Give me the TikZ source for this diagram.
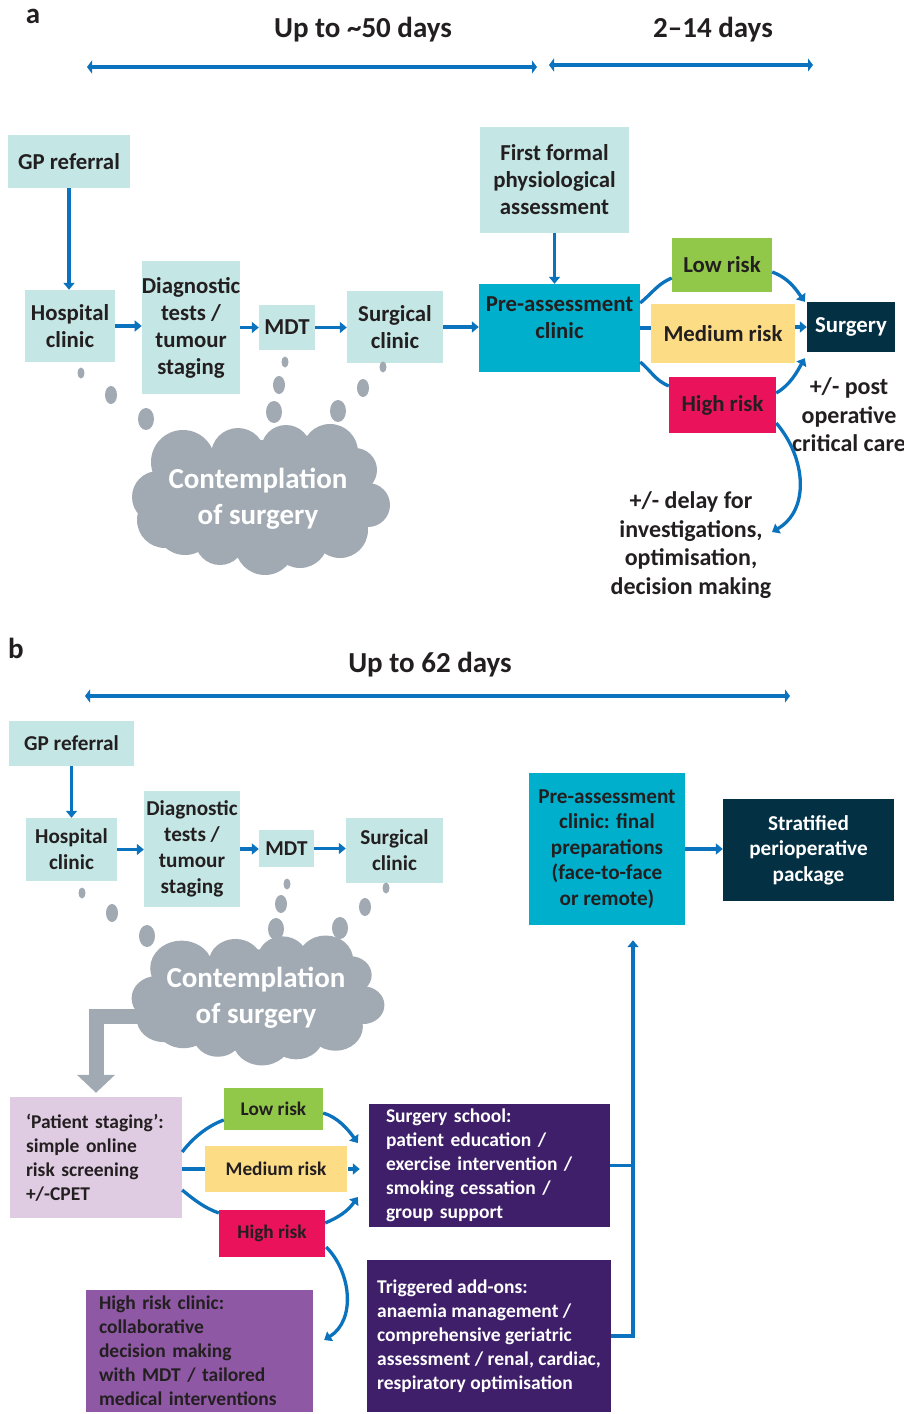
\documentclass[tikz,border=0pt]{standalone}
\usepackage{fontspec}
\setmainfont{Carlito}
\usetikzlibrary{arrows.meta}

\definecolor{ink}{RGB}{35,31,32}
\definecolor{boxpale}{RGB}{196,230,228}
\definecolor{boxcyan}{RGB}{0,175,203}
\definecolor{riskgreen}{RGB}{146,200,74}
\definecolor{riskamber}{RGB}{253,220,134}
\definecolor{riskred}{RGB}{234,18,90}
\definecolor{navy}{RGB}{3,48,67}
\definecolor{cloudgrey}{RGB}{161,170,179}
\definecolor{lilac}{RGB}{224,204,226}
\definecolor{deeppurple}{RGB}{63,31,105}
\definecolor{mauve}{RGB}{142,88,164}
\definecolor{flowblue}{RGB}{11,114,189}

\begin{document}
\begin{tikzpicture}[x=1pt, y=-1pt,
    box/.style={rectangle, inner sep=0pt, align=center, text=ink, font=\bfseries\fontsize{22.8}{27}\selectfont},
    pale/.style={box, fill=boxpale},
    boxb/.style={box, font=\bfseries\fontsize{21.2}{26}\selectfont},
    riskb/.style={box, font=\bfseries\fontsize{19.3}{22}\selectfont},
    note/.style={box, align=left, font=\bfseries\fontsize{19.5}{24}\selectfont},
    heading/.style={text=ink, font=\bfseries\fontsize{29}{32}\selectfont},
    cloudtxt/.style={align=center, text=white, font=\bfseries\fontsize{29}{36}\selectfont},
    flowarrow/.style={-{Triangle[length=7pt,width=11pt]}, line width=3.3pt, flowblue},
    flowline/.style={line width=3.3pt, flowblue},
    timeline/.style={{Triangle[length=5pt,width=13pt]}-{Triangle[length=5pt,width=13pt]}, line width=4.5pt, flowblue},
    bigarrow/.style={-{Triangle[length=18pt,width=37pt]}, line width=15pt, line join=miter, cloudgrey},
  ]
  \useasboundingbox (0,0) rectangle (904,1414);

  \def\cloudpuffs{-78/-37/32, -23/-44/27, 25/-49/25, 69/-47/28, 94/-29/22, 107/6/22, 79/31/28,
    4/46/30, 39/41/28, -76/26/30, -41/41/25, -103/-2/26, -96/21/28}

  %%=== PANEL a — current pathway ======================================
  \node[heading] (tagA) at (33,16) {a};
  \node[heading] (daysA) at (363,30) {Up to \textasciitilde50 days};
  \node[heading] (daysA2) at (713,30) {2–14 days};
  \coordinate (spanAl) at (87,67);  \coordinate (spanAr) at (537,67);
  \coordinate (spanBl) at (549,65); \coordinate (spanBr) at (813,65);
  \draw[timeline] (spanAl) -- (spanAr);
  \draw[timeline] (spanBl) -- (spanBr);

  % referral chain
  \node[pale, minimum width=122pt, minimum height=53pt] (gpA) at (69,161.5) {GP referral};
  \node[pale, minimum width=90pt, minimum height=72pt] (hospA) at (70,326) {Hospital\\clinic};
  \node[pale, minimum width=94pt, minimum height=133pt] (diagA) at (191,327.5) {Diagnostic\\tests /\\tumour\\staging};
  \node[pale, minimum width=56pt, minimum height=45pt] (mdtA) at (287,327.5) {MDT};
  \node[pale, minimum width=96pt, minimum height=72pt] (surgclA) at (395,327) {Surgical\\clinic};
  \node[pale, minimum width=149pt, minimum height=106pt] (firstA) at (554.5,180) {First formal\\physiological\\assessment};
  \node[box, fill=boxcyan, text depth=21pt, minimum width=161pt, minimum height=88pt] (preA) at (559.5,328) {Pre-assessment\\clinic};

  % risk split
  \node[box, fill=riskgreen, minimum width=100pt, minimum height=54pt] (lowA) at (722,265) {Low risk};
  \node[box, fill=riskamber, minimum width=144pt, minimum height=59pt] (medA) at (723,333.5) {Medium risk};
  \node[box, fill=riskred, minimum width=107pt, minimum height=56pt] (highA) at (722.5,405) {High risk};
  \node[box, fill=navy, text=white, minimum width=88pt, minimum height=50pt] (surgA) at (851,327) {Surgery};
  \node[box, font=\bfseries\fontsize{24}{28.5}\selectfont] (postA) at (849,415) {+/- post\\operative\\critical care};
  \node[box, font=\bfseries\fontsize{24}{28.7}\selectfont] (delayA) at (691,545) {+/- delay for\\investigations,\\optimisation,\\decision making};
  \coordinate (delayIn) at (772,532);

  % contemplation cloud and bubbles
  \begin{scope}[shift={(261,499)}]
    \fill[cloudgrey] (0,-4) ellipse[x radius=95, y radius=55];
    \foreach \dx/\dy/\r in \cloudpuffs {\fill[cloudgrey] (\dx,\dy) circle[radius=\r];}
  \end{scope}
  \foreach \bx/\by/\rx/\ry in {81/373/3.5/5.5, 111/395/6/9, 146/419/8/11,
      285/362/3.5/5.5, 279/385/6/9, 274/412/8/11,
      383/367/3.5/5.5, 363/388/6/9, 338/411/8/11}
    {\fill[cloudgrey] (\bx,\by) ellipse[x radius=\rx, y radius=\ry];}
  \node[cloudtxt] (cloudA) at (258,499) {Contemplation\\of surgery};

  % connectors
  \draw[flowarrow] (gpA.south) -- (gpA.south |- hospA.north);
  \draw[flowarrow] (hospA.east) -- (hospA.east -| diagA.west);
  \draw[flowarrow] (diagA.east) -- (diagA.east -| mdtA.west);
  \draw[flowarrow] (mdtA.east) -- (mdtA.east -| surgclA.west);
  \draw[flowarrow] (surgclA.east) -- (surgclA.east -| preA.west);
  \draw[flowarrow] (firstA.south) -- (firstA.south |- preA.north);
  \draw[flowline] ([yshift=25pt]preA.east) .. controls +(14,-12) and +(-14,6) .. ([yshift=-13pt]lowA.west);
  \draw[flowline] (preA.east) -- (preA.east -| medA.west);
  \draw[flowline] ([yshift=-34pt]preA.east) .. controls +(12,10) and +(-14,-6) .. ([yshift=19pt]highA.west);
  \draw[flowarrow] ([yshift=-7pt]lowA.east) .. controls +(16,6) and +(-10,-14) .. ([xshift=-2pt]surgA.north west);
  \draw[flowarrow] (medA.east |- surgA.west) -- (surgA.west);
  \draw[flowarrow] ([yshift=12pt]highA.east) .. controls +(14,-8) and +(-8,14) .. ([xshift=-2pt,yshift=-6pt]surgA.south west);
  \draw[flowarrow] ([yshift=-18pt]highA.east) .. controls +(30,35) and +(38,-22) .. (delayIn);

  %%=== PANEL b — proposed pathway =====================================
  \node[heading] (tagB) at (16,648) {b};
  \node[heading] (daysB) at (430,665) {Up to 62 days};
  \coordinate (spanCl) at (85,696); \coordinate (spanCr) at (790,696);
  \draw[timeline] (spanCl) -- (spanCr);

  % referral chain
  \node[pale, boxb, minimum width=125pt, minimum height=45pt] (gpB) at (71.5,743.5) {GP referral};
  \node[pale, boxb, minimum width=91pt, minimum height=63pt] (hospB) at (71.5,849.5) {Hospital\\clinic};
  \node[pale, boxb, minimum width=96pt, minimum height=116pt] (diagB) at (192,849) {Diagnostic\\tests /\\tumour\\staging};
  \node[pale, boxb, minimum width=55pt, minimum height=37pt] (mdtB) at (286.5,848.5) {MDT};
  \node[pale, boxb, minimum width=97pt, minimum height=65pt] (surgclB) at (394.5,850.5) {Surgical\\clinic};
  \node[boxb, fill=boxcyan, font=\bfseries\fontsize{21.2}{25.5}\selectfont, minimum width=156pt, minimum height=152pt] (preB) at (607,849)
    {Pre-assessment\\clinic: final\\preparations\\(face-to-face\\or remote)};
  \node[boxb, fill=navy, text=white, font=\bfseries\fontsize{21.2}{25.5}\selectfont, minimum width=171pt, minimum height=102pt] (stratB) at (808.5,850)
    {Stratified\\perioperative\\package};

  % patient staging and risk split
  \node[note, fill=lilac, inner xsep=16pt, text width=140pt, minimum height=121pt] (stagB) at (96,1157.5)
    {‘Patient staging’:\\simple online\\risk screening\\+/-CPET};
  \node[riskb, fill=riskgreen, minimum width=99pt, minimum height=42pt] (lowB) at (273.5,1109) {Low risk};
  \node[riskb, fill=riskamber, minimum width=142pt, minimum height=46pt] (medB) at (276,1169) {Medium risk};
  \node[riskb, fill=riskred, minimum width=106pt, minimum height=47pt] (highB) at (272,1233.5) {High risk};
  \node[note, fill=deeppurple, text=white, inner xsep=17pt, text width=207pt, minimum height=123pt] (schoolB) at (489.5,1165.5)
    {Surgery school:\\patient education /\\exercise intervention /\\smoking cessation /\\group support};
  \node[note, fill=deeppurple, text=white, minimum width=244pt, minimum height=152pt] (trigB) at (489,1336)
    {Triggered add-ons:\\anaemia management /\\comprehensive geriatric\\assessment / renal, cardiac,\\respiratory optimisation};
  \node[note, fill=mauve, inner xsep=13pt, text width=201pt, minimum height=122pt] (hrcB) at (199.5,1351)
    {High risk clinic:\\collaborative\\decision making\\with MDT / tailored\\medical interventions};

  % contemplation cloud, bubbles and the grey arrow out of it
  \coordinate (cloudOut) at (150,1016);
  \draw[bigarrow] (cloudOut) -| ([yshift=4pt]stagB.north);
  \begin{scope}[shift={(258,1000)}, xscale=0.98, yscale=0.86]
    \fill[cloudgrey] (0,-4) ellipse[x radius=95, y radius=55];
    \foreach \dx/\dy/\r in \cloudpuffs {\fill[cloudgrey] (\dx,\dy) circle[radius=\r];}
  \end{scope}
  \foreach \bx/\by/\rx/\ry in {82/893/3.5/5.5, 112/913/6/9, 147/936/8/11,
      287/884/3.5/5.5, 281/904/6/9, 276/929/8/11,
      386/888/3.5/5.5, 365/907/6/9, 340/928/8/11}
    {\fill[cloudgrey] (\bx,\by) ellipse[x radius=\rx, y radius=\ry];}
  \node[cloudtxt] (cloudB) at (256,998) {Contemplation\\of surgery};

  % connectors
  \draw[flowarrow] (gpB.south) -- (gpB.south |- hospB.north);
  \draw[flowarrow] (hospB.east) -- (hospB.east -| diagB.west);
  \draw[flowarrow] (diagB.east) -- (diagB.east -| mdtB.west);
  \draw[flowarrow] (mdtB.east) -- (mdtB.east -| surgclB.west);
  \draw[flowarrow] (preB.east) -- (preB.east -| stratB.west);
  \draw[flowline] ([yshift=5.5pt]stagB.east) .. controls +(12,-16) and +(-14,5) .. ([yshift=-11pt]lowB.west);
  \draw[flowline] (stagB.east |- medB.west) -- (medB.west);
  \draw[flowline] ([yshift=-32.5pt]stagB.east) .. controls +(12,10) and +(-14,-5) .. ([yshift=20.5pt]highB.west);
  \draw[flowarrow] ([yshift=-4pt]lowB.east) .. controls +(14,4) and +(-10,-14) .. ([xshift=-11pt,yshift=22.5pt]schoolB.west);
  \draw[flowarrow] ([xshift=1pt]medB.east) -- ([xshift=-9pt]schoolB.west |- medB.east);
  \draw[flowarrow] ([yshift=10.5pt]highB.east) .. controls +(14,-6) and +(-10,14) .. ([xshift=-11pt,yshift=-31.5pt]schoolB.west);
  \draw[flowarrow] ([xshift=1pt,yshift=-13.5pt]highB.east) .. controls +(25,25) and +(32,-20) .. ([xshift=11pt,yshift=11pt]hrcB.east);
  \coordinate (trunk) at ([xshift=26pt,yshift=-15pt]preB.south);
  \draw[flowarrow] (trigB.east) -| (trunk);
  \draw[flowline] (schoolB.east) -- (schoolB.east -| trunk);

\end{tikzpicture}
\end{document}
